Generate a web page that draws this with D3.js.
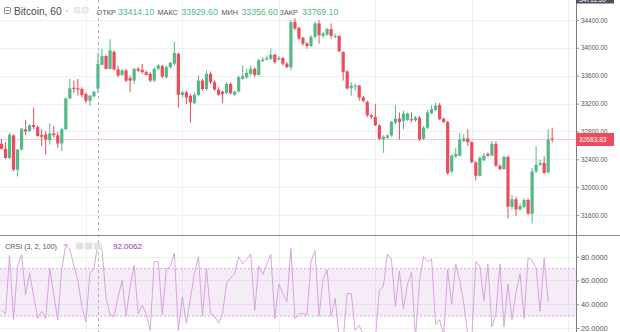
<!DOCTYPE html>
<html>
<head>
<meta charset="utf-8">
<script src="https://cdn.jsdelivr.net/npm/d3@7"></script>
<style>
  html, body { margin: 0; padding: 0; background: #fff; }
  svg { display: block; font-family: "Liberation Sans", Arial, sans-serif; }
</style>
</head>
<body>
<svg id="chart" width="620" height="332"></svg>
<script>
// Bitcoin, 60-minute candles (open / high / low / close)
const opens = [32622,32550,32419,32743,32250,32540,32830,32806,32893,32864,32748,32757,32675,32772,32743,32627,32830,33274,33429,33419,33409,33337,33240,33303,33414.1,33757,33883,33699,33941,33690,33612,33675,33564,33530,33699,33685,33651,33627,33530,33699,33738,33578,33723,33772,33916,33322,33361,33313,33206,33322,33530,33409,33627,33506,33400,33371,33351,33482,33327,33371,33554,33578,33627,33699,33612,33810,33834,33844,33902,33834,33854,33772,33723,34375,34288,34144,34061,34028,34158,34351,34172,34192,34269,34158,34172,33941,33661,33419,33443,33458,33289,33226,33033,33008,32888,32685,32709,32743,32926,32984,32951,32965,32975,32960,32999,32695,32854,33062,33110,33178,32984,32936,32226,32443,32453,32661,32699,32646,32356,32163,32385,32477,32453,32622,32308,32260,32434,31719,31825,31680,31719,31816,31613,32226,32323,32347,32212,32700];
const highs = [32685,32646,32781,32757,32550,32854,32965,32902,33144,32878,32830,32806,32917,32878,32791,32854,33289,33554,33530,33554,33434,33361,33322,33385,33929.6,33989,33902,34124,33965,33748,33699,33699,33603,33709,33723,33772,33675,33651,33723,33772,33757,33748,33796,34086,33931,33385,33385,33337,33361,33603,33554,33675,33661,33530,33434,33385,33506,33506,33385,33603,33748,33699,33748,33723,33844,33868,33892,33989,33916,33883,33868,33796,34400,34424,34303,34158,34086,34182,34375,34400,34230,34288,34351,34206,34182,33950,33675,33506,33482,33467,33313,33240,33047,33192,32902,32743,32757,32951,33178,33071,33095,33071,33071,33023,33023,32878,33110,33178,33216,33206,32999,32951,32468,32564,32781,32757,32830,32661,32371,32443,32492,32501,32661,32661,32323,32453,32453,31888,31864,31767,31840,31840,32274,32588,32395,32443,32830,32854];
const lows = [32540,32405,32405,32226,32154,32530,32743,32791,32830,32724,32588,32468,32612,32709,32564,32516,32820,33264,33351,33313,33289,33206,33168,33289,33356.6,33748,33690,33690,33675,33578,33593,33506,33361,33482,33651,33627,33603,33506,33506,33675,33564,33554,33699,33748,33144,33289,33192,32926,33192,33313,33385,33385,33482,33385,33313,33206,33337,33327,33313,33361,33545,33554,33603,33578,33603,33796,33820,33820,33772,33815,33748,33709,33675,34255,34110,34028,33989,34013,34134,34061,34134,34172,34134,34134,33941,33530,33400,33313,33385,33240,33216,32999,32975,32878,32675,32492,32695,32724,32902,32685,32830,32951,32936,32936,32661,32675,32830,33047,33095,32965,32917,32178,32202,32419,32443,32646,32588,32347,32096,32154,32371,32434,32443,32289,32241,32250,31550,31680,31584,31661,31695,31598,31477,32202,32299,32192,32202,32637];
const closes = [32550,32419,32752,32250,32540,32839,32801,32888,32864,32733,32724,32685,32772,32748,32627,32830,33274,33419,33409,33400,33322,33240,33313,33371,33769.1,33883,33699,33965,33690,33603,33675,33530,33530,33699,33675,33651,33612,33530,33699,33748,33588,33723,33786,33926,33327,33361,33289,33216,33327,33530,33409,33627,33506,33400,33327,33337,33482,33351,33371,33578,33593,33641,33699,33612,33820,33830,33854,33902,33796,33854,33772,33723,34366,34279,34134,34061,34028,34158,34351,34182,34206,34269,34172,34172,33950,33651,33419,33458,33458,33289,33240,33033,33008,32888,32695,32724,32743,32936,32984,32936,33057,33057,32960,32999,32685,32854,33071,33120,33168,32975,32936,32202,32453,32477,32685,32699,32646,32356,32163,32419,32453,32453,32622,32308,32260,32434,31719,31825,31680,31729,31816,31622,32226,32323,32347,32202,32685,32683.83];

// CRSI (3, 2, 100), one value per candle
const crsi = [35,32,81,27,72,82,48,66,47,28,34,28,70,48,27,70,90,86,73,60,38,25,66,70,92.0062,86,46,31,30,46,60,30,55,73,32,39,32,18,76,76,31,69,72,83,18,46,24,45,66,80,30,70,32,30,24,32,58,62,66,80,74,78,82,35,72,65,74,82,28,57,49,42,87,28,32,32,31,76,85,30,61,69,30,45,12,10,49,49,18,22,14,8,8,10,52,55,82,78,38,68,36,57,67,12,60,80,76,78,23,27,14,69,40,74,60,41,14,12,76,72,43,74,21,32,74,21,57,27,50,66,28,79,77,70,34,79,42];

const priceTicks = [31600, 32000, 32400, 32800, 33200, 33600, 34000, 34400];
const rsiTicks = [20, 40, 60, 80];
const rsiBand = [30, 70];
const dayStarts = [21, 45, 69, 93, 117, 141];   // candle index where each new day begins
const hoverIndex = 24;                          // candle under the cursor
const hoverPrice = "34711.50";
const lastPrice = 32683.83;

const UP = "#53b987", DOWN = "#eb4d5c";
const W = 576, MAIN_BOTTOM = 235, RSI_TOP = 236, H = 332;
const FONT = '"Liberation Sans", Arial, sans-serif';

const svg = d3.select("#chart");
const x = d3.scaleLinear().domain([0, closes.length - 1]).range([1.5, 552.2]);
const y = d3.scaleLinear().domain([31600, 34400]).range([215, 20]);
const yR = d3.scaleLinear().domain([20, 80]).range([328, 256.7]);

const defs = svg.append("defs");
defs.append("clipPath").attr("id", "clipMain").append("rect")
  .attr("x", 0).attr("y", 0).attr("width", W).attr("height", MAIN_BOTTOM);
defs.append("clipPath").attr("id", "clipRsi").append("rect")
  .attr("x", 0).attr("y", RSI_TOP).attr("width", W).attr("height", H - RSI_TOP);

// ---- grid ----
const grid = svg.append("g").attr("stroke", "#eef0f4").attr("stroke-width", 1);
grid.selectAll("line.h").data(priceTicks).join("line")
  .attr("x1", 0).attr("x2", W)
  .attr("y1", d => Math.round(y(d)) + 0.5).attr("y2", d => Math.round(y(d)) + 0.5);
grid.selectAll("line.r").data(rsiTicks).join("line")
  .attr("x1", 0).attr("x2", W)
  .attr("y1", d => Math.round(yR(d)) + 0.5).attr("y2", d => Math.round(yR(d)) + 0.5);
grid.selectAll("line.v").data(dayStarts).join("line")
  .attr("x1", d => Math.round(x(d)) + 0.5).attr("x2", d => Math.round(x(d)) + 0.5)
  .attr("y1", 0).attr("y2", H);

// ---- RSI band ----
const band = svg.append("g");
band.append("rect")
  .attr("x", 0).attr("width", W)
  .attr("y", yR(rsiBand[1])).attr("height", yR(rsiBand[0]) - yR(rsiBand[1]))
  .attr("fill", "rgba(156,39,176,0.09)");
band.selectAll("line").data(rsiBand).join("line")
  .attr("x1", 0).attr("x2", W)
  .attr("y1", d => yR(d)).attr("y2", d => yR(d))
  .attr("stroke", "#d2acd9").attr("stroke-dasharray", "2,2");

// ---- last price line ----
svg.append("line")
  .attr("x1", 0).attr("x2", W)
  .attr("y1", y(lastPrice)).attr("y2", y(lastPrice))
  .attr("stroke", DOWN).attr("stroke-opacity", 0.3);

// ---- candles ----
const candles = svg.append("g").attr("clip-path", "url(#clipMain)")
  .selectAll("g").data(d3.range(closes.length)).join("g");
candles.append("line")
  .attr("x1", i => x(i)).attr("x2", i => x(i))
  .attr("y1", i => y(highs[i])).attr("y2", i => y(lows[i]))
  .attr("stroke", i => closes[i] >= opens[i] ? UP : DOWN)
  .attr("stroke-width", 1);
candles.append("rect")
  .attr("x", i => x(i) - 1.6).attr("width", 3.2)
  .attr("y", i => y(Math.max(opens[i], closes[i])))
  .attr("height", i => Math.max(1, Math.abs(y(opens[i]) - y(closes[i]))))
  .attr("fill", i => closes[i] >= opens[i] ? UP : DOWN);

// ---- CRSI line ----
svg.append("path")
  .datum(crsi)
  .attr("clip-path", "url(#clipRsi)")
  .attr("fill", "none")
  .attr("stroke", "#d49bdc")
  .attr("stroke-width", 0.9)
  .attr("d", d3.line().x((d, i) => x(i)).y(d => yR(d)));

// ---- crosshair ----
svg.append("line")
  .attr("x1", Math.round(x(hoverIndex)) + 0.5).attr("x2", Math.round(x(hoverIndex)) + 0.5)
  .attr("y1", 0).attr("y2", H)
  .attr("stroke", "#9598a1").attr("stroke-opacity", 0.7)
  .attr("stroke-dasharray", "3,3");

// ---- pane separator and axis border ----
svg.append("line").attr("x1", 0).attr("x2", 620).attr("y1", 235.5).attr("y2", 235.5)
  .attr("stroke", "#8c8c8c");
svg.append("line").attr("x1", W + 0.5).attr("x2", W + 0.5).attr("y1", 0).attr("y2", H)
  .attr("stroke", "#7c7c7c");

// ---- price axis ----
const axP = svg.append("g").attr("transform", `translate(${W},0)`)
  .call(d3.axisRight(y).tickValues(priceTicks).tickFormat(d3.format(".2f")).tickSize(3).tickPadding(2));
axP.select(".domain").remove();
axP.selectAll("line").attr("stroke", "#8c8c8c");
axP.selectAll("text").attr("font-size", 6.4).attr("font-family", FONT).attr("fill", "#555");

// ---- RSI axis ----
const axR = svg.append("g").attr("transform", `translate(${W},0)`)
  .call(d3.axisRight(yR).tickValues(rsiTicks).tickFormat(d3.format(".4f")).tickSize(3).tickPadding(2));
axR.select(".domain").remove();
axR.selectAll("line").attr("stroke", "#8c8c8c");
axR.selectAll("text").attr("font-size", 7.4).attr("font-family", FONT).attr("fill", "#555");

// ---- last price label ----
const ly = y(lastPrice);
svg.append("rect").attr("x", W).attr("y", ly - 6.5).attr("width", 38).attr("height", 13)
  .attr("fill", DOWN);
svg.append("text").attr("x", W + 3).attr("y", ly + 2.3)
  .attr("font-size", 6.6).attr("fill", "#fff").text(d3.format(".2f")(lastPrice));

// ---- cursor price label (top edge, partly outside the view) ----
svg.append("rect").attr("x", W).attr("y", -8).attr("width", 38).attr("height", 11.5)
  .attr("fill", "#4c525e");
svg.append("text").attr("x", W + 3).attr("y", 2.3)
  .attr("font-size", 6.6).attr("fill", "#fff").text(hoverPrice);

// ---- main legend ----
const legend = svg.append("g");
legend.append("rect").attr("x", 4.5).attr("y", 7.5).attr("width", 6).attr("height", 6)
  .attr("fill", "none").attr("stroke", "#8a8a8a").attr("rx", 1);
legend.append("line").attr("x1", 6).attr("x2", 9).attr("y1", 10.5).attr("y2", 10.5)
  .attr("stroke", "#8a8a8a");
legend.append("text").attr("x", 14).attr("y", 15).attr("font-size", 10.2)
  .attr("fill", "#4a4a4a").text("Bitcoin, 60");
legend.append("circle").attr("cx", 67).attr("cy", 11).attr("r", 0.8).attr("fill", "#aaa");
[74, 82].forEach(bx => {
  legend.append("rect").attr("x", bx).attr("y", 7).attr("width", 6.5).attr("height", 6.5)
    .attr("fill", "#e4e4e4").attr("rx", 1);
  legend.append("circle").attr("cx", bx + 3.25).attr("cy", 10.25).attr("r", 1.6)
    .attr("fill", "none").attr("stroke", "#fff").attr("stroke-width", 0.8);
});
const ohlcLabels = ["ОТКР", "МАКС", "МИН", "ЗАКР"];
const ohlcValues = [opens[hoverIndex], highs[hoverIndex], lows[hoverIndex], closes[hoverIndex]];
const labelX = [96.5, 157.5, 221.5, 279.5];
const valueX = [118, 181.5, 241.5, 302];
ohlcLabels.forEach((lab, k) => {
  legend.append("text").attr("x", labelX[k]).attr("y", 15).attr("font-size", 7.3)
    .attr("fill", "#4f5966").text(lab);
  legend.append("text").attr("x", valueX[k]).attr("y", 15).attr("font-size", 8.7)
    .attr("fill", UP).text(d3.format(".2f")(ohlcValues[k]));
});

// ---- CRSI legend ----
const rl = svg.append("g");
rl.append("text").attr("x", 5).attr("y", 248.5).attr("font-size", 7.2)
  .attr("fill", "#555").text("CRSI (3, 2, 100)");
rl.append("path").attr("d", "M63.5,246 L65.5,244 L67.5,246").attr("fill", "none")
  .attr("stroke", "#999").attr("stroke-width", 0.8);
[76, 85, 94].forEach(bx => {
  rl.append("rect").attr("x", bx).attr("y", 242.5).attr("width", 7.5).attr("height", 7)
    .attr("fill", "#e2e2e2").attr("rx", 1);
});
rl.append("text").attr("x", 113).attr("y", 249).attr("font-size", 8)
  .attr("fill", "#9c27b0").text(d3.format(".4f")(crsi[hoverIndex]));
</script>
</body>
</html>
